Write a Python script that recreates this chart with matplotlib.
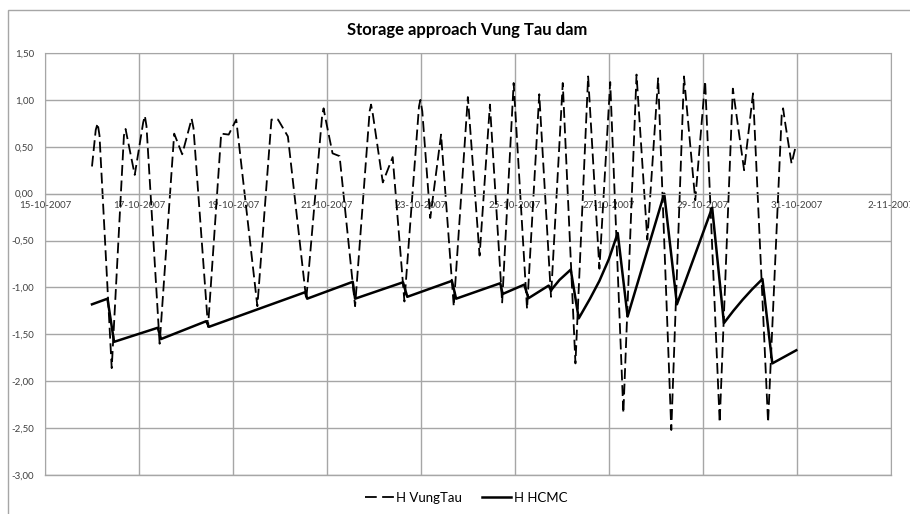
import matplotlib
matplotlib.use("Agg")
import matplotlib.pyplot as plt
import matplotlib.dates as mdates
from matplotlib.patches import Rectangle
from matplotlib.lines import Line2D
from datetime import datetime
import numpy as np

plt.rcParams['font.family'] = ['Lato', 'DejaVu Sans']

# days after 15-10-2007 00:00, water level (m)
vt_day = [1.00, 1.08, 1.12, 1.16, 1.42, 1.68, 1.715, 1.75, 1.91, 2.09, 2.125, 2.16,
          2.44, 2.75, 2.92, 3.09, 3.12, 3.16, 3.47,
          3.75, 3.91, 4.07, 4.52, 4.82, 4.96, 5.17, 5.56, 5.90, 5.93, 5.97, 6.12, 6.27,
          6.60, 6.91, 6.94, 6.98, 7.19, 7.40, 7.65, 7.96, 7.99, 8.03, 8.20, 8.43, 8.70,
          9.00, 9.25, 9.47, 9.73, 9.975, 10.26, 10.52, 10.77, 11.02, 11.29, 11.56, 11.80,
          12.03, 12.31, 12.59, 12.82, 13.05, 13.33, 13.60, 13.84, 14.05,
          14.36, 14.64, 14.88, 15.07, 15.39, 15.68, 15.71, 15.74, 15.89, 15.98]
vt_level = [0.29, 0.68, 0.75, 0.62, -1.86, 0.62, 0.69, 0.60, 0.20, 0.76, 0.83, 0.72,
            -1.60, 0.64, 0.42, 0.74, 0.80, 0.70, -1.42,
            0.64, 0.63, 0.79, -1.20, 0.79, 0.79, 0.61, -1.13, 0.84, 0.91, 0.80, 0.43, 0.40,
            -1.20, 0.88, 0.95, 0.84, 0.12, 0.39, -1.15, 0.93, 1.00, 0.88, -0.26, 0.63, -1.20,
            1.03, -0.66, 0.95, -1.16, 1.18, -1.23, 1.06, -1.10, 1.18, -1.81, 1.25, -0.80,
            1.19, -2.34, 1.27, -0.49, 1.23, -2.52, 1.25, -0.07, 1.20,
            -2.44, 1.12, 0.25, 1.07, -2.44, 0.84, 0.91, 0.80, 0.32, 0.51]

hcmc_day = [1.00, 1.33, 1.47, 2.40, 2.47, 3.43, 3.49, 5.54, 5.58, 6.55, 6.60,
            7.62, 7.71, 8.66, 8.75, 9.69, 9.74, 10.20, 10.29, 10.72, 10.77,
            10.95, 11.19, 11.36, 11.60, 11.80, 12.00, 12.19, 12.40, 13.18,
            13.45, 14.20, 14.45, 14.65, 14.85, 15.05, 15.27, 15.48, 15.99]
hcmc_level = [-1.18, -1.12, -1.58, -1.43, -1.55, -1.36, -1.42, -1.05, -1.12, -0.94, -1.12,
              -0.945, -1.10, -0.93, -1.12, -0.955, -1.07, -0.97, -1.115, -0.98, -1.03,
              -0.92, -0.81, -1.33, -1.12, -0.93, -0.70, -0.42, -1.31, 0.00,
              -1.18, -0.15, -1.38, -1.25, -1.13, -1.02, -0.91, -1.81, -1.67]

start = mdates.date2num(datetime(2007, 10, 15))
x_vt = start + np.array(vt_day)
x_hc = start + np.array(hcmc_day)

fig = plt.figure(figsize=(9.1, 5.14), dpi=100)
ax = fig.add_axes([45 / 910, 1 - 475 / 514, (890.7 - 45) / 910, (475 - 53) / 514])

grid_c = '#a6a6a6'
dash = (6, 2.6)
ax.plot(x_vt, vt_level, color='black', lw=1.3, dashes=dash, label='H VungTau')
ax.plot(x_hc, hcmc_level, color='black', lw=1.8, label='H HCMC')

ax.set_xlim(start, start + 18)
ax.set_ylim(-3, 1.5)
ax.set_xticks(start + np.arange(0, 19, 2))
ax.set_yticks(np.arange(-3, 1.51, 0.5))


def fmt_date(v, pos):
    d = mdates.num2date(v)
    return f"{d.day}-{d.month:02d}-{d.year}"


ax.xaxis.set_major_formatter(plt.FuncFormatter(fmt_date))
ax.yaxis.set_major_formatter(plt.FuncFormatter(lambda v, p: f"{v:.2f}".replace('.', ',')))
ax.grid(True, color=grid_c, lw=1)
ax.set_axisbelow(True)
for s in ax.spines.values():
    s.set_color(grid_c)
ax.spines['bottom'].set_position(('data', 0))
ax.tick_params(length=0, labelsize=7, colors='#404040')
ax.tick_params(axis='y', pad=8)
ax.tick_params(axis='x', pad=5)
# bottom border of plot area at -3
ax.axhline(-3, color=grid_c, lw=1, clip_on=False)

fig.text(467 / 910, 1 - 30 / 514, 'Storage approach Vung Tau dam', ha='center', va='center',
         fontsize=12, fontweight='bold', color='black')

handles = [Line2D([], [], color='black', lw=1.3, dashes=(6.5, 3)),
           Line2D([], [], color='black', lw=1.8)]
fig.legend(handles, ['H VungTau', 'H HCMC'], loc='center', bbox_to_anchor=(466 / 910, 1 - 498 / 514),
           ncol=2, frameon=False, fontsize=9.5, handlelength=2.2, handletextpad=0.2, columnspacing=1.5)

fig.patches.append(Rectangle((8 / 910, -0.05), 1.0, 1 - 10 / 514 + 0.05, transform=fig.transFigure,
                             fill=False, edgecolor=grid_c, lw=1))

fig.savefig('out.png', dpi=100)
